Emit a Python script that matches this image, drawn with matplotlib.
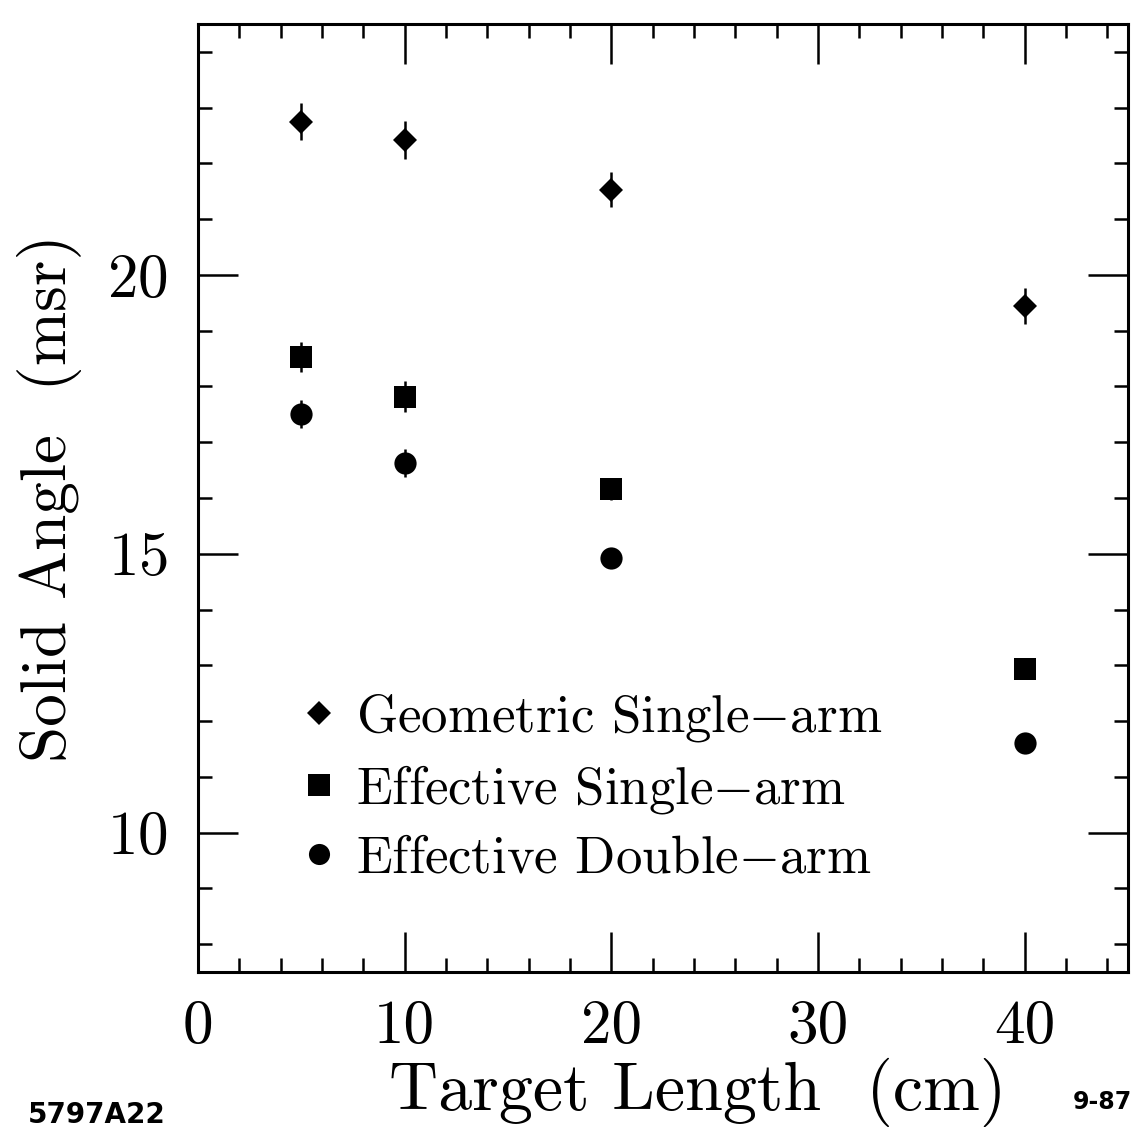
import matplotlib
matplotlib.use('Agg')
import matplotlib.pyplot as plt
from matplotlib.ticker import MultipleLocator, FixedLocator

plt.rcParams['font.family'] = ['cmr10', 'DejaVu Serif']
plt.rcParams['mathtext.fontset'] = 'cm'
plt.rcParams['axes.formatter.use_mathtext'] = True

# target lengths (cm) and solid angles (msr)
target_len = [5, 10, 20, 40]
geo_single = [22.75, 22.42, 21.53, 19.44]
geo_single_err = [0.33, 0.34, 0.32, 0.32]
eff_single = [18.53, 17.82, 16.16, 12.94]
eff_single_err = [0.27, 0.27, 0.20, 0.18]
eff_double = [17.51, 16.62, 14.92, 11.61]
eff_double_err = [0.25, 0.25, 0.18, 0.18]

x_ticklabels = ['0', '10', '20', '30', '40']
y_ticks = [10, 15, 20]

fig = plt.figure(figsize=(11.35, 11.27), dpi=100)
ax = fig.add_axes([198 / 1135, 155 / 1127, 930 / 1135, 948 / 1127])

series = [
    (geo_single, geo_single_err, 'D', 12.5, 'Geometric Single$-$arm'),
    (eff_single, eff_single_err, 's', 16, 'Effective Single$-$arm'),
    (eff_double, eff_double_err, 'o', 16, 'Effective Double$-$arm'),
]
handles = []
for vals, errs, mk, ms, lab in series:
    ax.errorbar(target_len, vals, yerr=errs, fmt='none', ecolor='black',
                elinewidth=1.8, capsize=0)
    h, = ax.plot(target_len, vals, linestyle='none', marker=mk, markersize=ms,
                 color='black', markeredgewidth=0, label=lab)
    handles.append(h)

ax.set_xlim(0, 45)
ax.set_ylim(7.5, 24.5)

ax.xaxis.set_major_locator(FixedLocator([0, 10, 20, 30, 40]))
ax.set_xticklabels(x_ticklabels)
ax.xaxis.set_minor_locator(MultipleLocator(2))
ax.yaxis.set_major_locator(FixedLocator(y_ticks))
ax.yaxis.set_minor_locator(MultipleLocator(1))

ax.tick_params(which='both', direction='in', top=True, right=True,
               width=1.8, colors='black')
ax.tick_params(which='major', length=29, labelsize=44)
ax.tick_params(which='minor', length=10)
ax.tick_params(axis='y', which='major', pad=22)
ax.tick_params(axis='x', which='major', pad=20)
for sp in ax.spines.values():
    sp.set_linewidth(2.2)

ax.set_xlabel('Target Length  (cm)', fontsize=49, labelpad=2)
ax.xaxis.label.set_x(0.537)
ax.set_ylabel('Solid Angle  (msr)', fontsize=47, labelpad=18)

leg = ax.legend(handles=handles, loc='center left',
                bbox_to_anchor=(0.11, 0.195), frameon=False, fontsize=38,
                markerscale=0.95, handlelength=0.7, handletextpad=0.35,
                labelspacing=0.36, borderpad=0, borderaxespad=0)

fig.text(28 / 1135, 1 - 1123 / 1127, '5797A22', fontsize=20,
         fontweight='bold', family='DejaVu Sans', ha='left', va='baseline')
fig.text(1132 / 1135, 1 - 1109 / 1127, '9-87', fontsize=17,
         fontweight='bold', family='DejaVu Sans', ha='right', va='baseline')

fig.savefig('out.png', dpi=100, facecolor='white')
